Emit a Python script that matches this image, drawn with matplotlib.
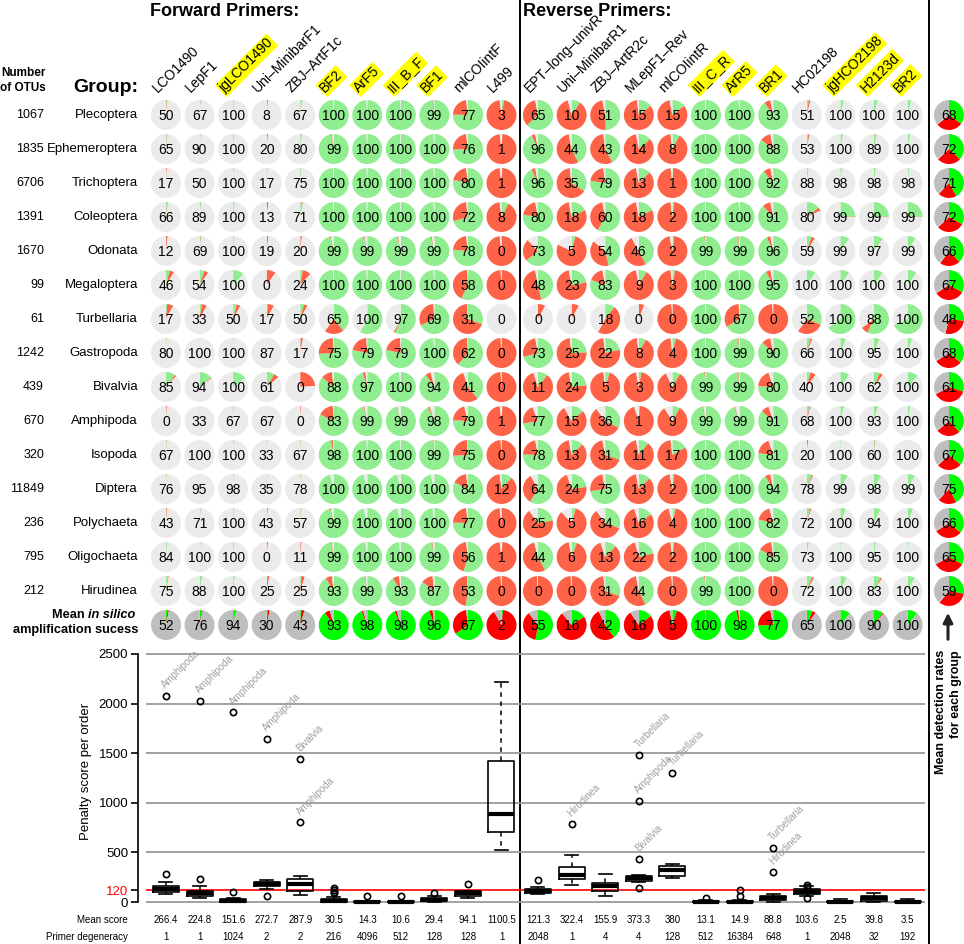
import numpy as np
import matplotlib
matplotlib.use("Agg")
import matplotlib.pyplot as plt

plt.rcParams['font.family'] = ['Liberation Sans', 'DejaVu Sans']

# ---- data ----
groups = ['Plecoptera', 'Ephemeroptera', 'Trichoptera', 'Coleoptera', 'Odonata',
          'Megaloptera', 'Turbellaria', 'Gastropoda', 'Bivalvia', 'Amphipoda',
          'Isopoda', 'Diptera', 'Polychaeta', 'Oligochaeta', 'Hirudinea']
otus = [1067, 1835, 6706, 1391, 1670, 99, 61, 1242, 439, 670, 320, 11849, 236, 795, 212]

fwd_primers = ['LCO1490', 'LepF1', 'jgLCO1490', 'Uni–MinibarF1', 'ZBJ–ArtF1c', 'BF2',
               'ArF5', 'III_B_F', 'BF1', 'mlCOIintF', 'L499']
rev_primers = ['EPT–long–univR', 'Uni–MinibarR1', 'ZBJ–ArtR2c', 'MLepF1–Rev', 'mlCOIintR',
               'III_C_R', 'ArR5', 'BR1', 'HC02198', 'jgHCO2198', 'H2123d', 'BR2']
highlighted = ['jgLCO1490', 'BF2', 'ArF5', 'III_B_F', 'BF1', 'III_C_R', 'ArR5', 'BR1',
               'jgHCO2198', 'H2123d', 'BR2']

# in silico amplification success (%) per group x primer
success = [
    [50, 67, 100, 8, 67, 100, 100, 100, 99, 77, 3, 65, 10, 51, 15, 15, 100, 100, 93, 51, 100, 100, 100],
    [65, 90, 100, 20, 80, 99, 100, 100, 100, 76, 1, 96, 44, 43, 14, 8, 100, 100, 88, 53, 100, 89, 100],
    [17, 50, 100, 17, 75, 100, 100, 100, 100, 80, 1, 96, 35, 79, 13, 1, 100, 100, 92, 88, 98, 98, 98],
    [66, 89, 100, 13, 71, 100, 100, 100, 100, 72, 8, 80, 18, 60, 18, 2, 100, 100, 91, 80, 99, 99, 99],
    [12, 69, 100, 19, 20, 99, 99, 99, 99, 78, 0, 73, 5, 54, 46, 2, 99, 99, 96, 59, 99, 97, 99],
    [46, 54, 100, 0, 24, 100, 100, 100, 100, 58, 0, 48, 23, 83, 9, 3, 100, 100, 95, 100, 100, 100, 100],
    [17, 33, 50, 17, 50, 65, 100, 97, 69, 31, 0, 0, 0, 18, 0, 0, 100, 67, 0, 52, 100, 88, 100],
    [80, 100, 100, 87, 17, 75, 79, 79, 100, 62, 0, 73, 25, 22, 8, 4, 100, 99, 90, 66, 100, 95, 100],
    [85, 94, 100, 61, 0, 88, 97, 100, 94, 41, 0, 11, 24, 5, 3, 9, 99, 99, 80, 40, 100, 62, 100],
    [0, 33, 67, 67, 0, 83, 99, 99, 98, 79, 1, 77, 15, 36, 1, 9, 99, 99, 91, 68, 100, 93, 100],
    [67, 100, 100, 33, 67, 98, 100, 100, 99, 75, 0, 78, 13, 31, 11, 17, 100, 100, 81, 20, 100, 60, 100],
    [76, 95, 98, 35, 78, 100, 100, 100, 100, 84, 12, 64, 24, 75, 13, 2, 100, 100, 94, 78, 99, 98, 99],
    [43, 71, 100, 43, 57, 99, 100, 100, 100, 77, 0, 25, 5, 34, 16, 4, 100, 100, 82, 72, 100, 94, 100],
    [84, 100, 100, 0, 11, 99, 100, 100, 99, 56, 1, 44, 6, 13, 22, 2, 100, 100, 85, 73, 100, 95, 100],
    [75, 88, 100, 25, 25, 93, 99, 93, 87, 53, 0, 0, 0, 31, 44, 0, 99, 100, 0, 72, 100, 83, 100],
]

# share of sequences that cover the primer binding site (rest drawn grey)
coverage = [
    [.015, .015, .015, .015, .02, .99, .99, .99, .99, .98, .98, .97, .96, .97, .98, .97, .99, .99, .97, .04, .04, .04, .04],
    [.015, .015, .015, .015, .02, .98, .99, .99, .99, .98, .98, .97, .97, .98, .97, .98, .99, .99, .97, .03, .03, .03, .03],
    [.01, .01, .01, .01, .015, .99, .99, .99, .99, .98, .98, .97, .98, .98, .97, .98, .99, .99, .97, .02, .02, .02, .02],
    [.02, .02, .02, .02, .03, .99, .99, .99, .99, .98, .98, .97, .97, .97, .97, .98, .99, .99, .97, .18, .25, .25, .25],
    [.02, .02, .015, .02, .02, .97, .97, .97, .97, .98, .98, .88, .82, .86, .92, .97, .99, .99, .97, .09, .10, .10, .09],
    [.09, .10, .12, .10, .12, .99, .99, .99, .99, .99, .99, .97, .97, .97, .97, .98, .99, .99, .97, .10, .10, .10, .10],
    [.08, .08, .08, .08, .08, .60, .58, .58, .99, .99, 0.0, .08, .08, .58, .06, .99, .99, .99, .99, .60, .65, .65, .68],
    [.01, .01, .01, .01, .03, .99, .99, .99, .99, .99, .99, .97, .98, .98, .98, .98, .99, .99, .97, .06, .06, .06, .05],
    [.12, .15, .15, .14, .24, .98, .98, .98, .96, .95, .99, .95, .97, .98, .97, .93, .99, .99, .95, .10, .10, .10, .12],
    [.01, .01, .01, .01, .01, .99, .97, .96, .95, .96, .98, .94, .92, .90, .95, .91, .97, .95, .95, .04, .04, .04, .03],
    [.01, .01, .01, .01, .01, .99, .99, .99, .99, .99, .99, .97, .97, .97, .97, .98, .99, .99, .95, .015, .01, .015, .01],
    [.01, .01, .01, .01, .01, .96, .96, .96, .96, .98, .98, .92, .95, .97, .97, .97, .99, .99, .97, .07, .08, .08, .08],
    [.015, .015, .015, .015, .015, .97, .96, .96, .98, .98, .98, .90, .88, .90, .95, .96, .99, .99, .96, .05, .06, .07, .06],
    [.015, .015, .015, .015, .015, .98, .98, .98, .98, .98, .98, .96, .97, .95, .96, .98, .99, .99, .98, .02, .015, .02, .015],
    [.03, .03, .02, .03, .05, .98, .98, .98, .98, .99, .99, .99, .99, .98, .97, .99, .99, .99, .99, .08, .07, .09, .08],
]

mean_success = [52, 76, 94, 30, 43, 93, 98, 98, 96, 67, 2,
                55, 16, 42, 16, 5, 100, 98, 77, 65, 100, 90, 100]

group_mean = [68, 72, 71, 72, 66, 67, 48, 68, 61, 61, 67, 75, 66, 65, 59]
group_green = [0.35, 0.37, 0.42, 0.33, 0.38, 0.33, 0.27, 0.36, 0.30, 0.38, 0.36, 0.42, 0.36, 0.33, 0.28]
group_red = [0.29, 0.26, 0.20, 0.30, 0.22, 0.33, 0.27, 0.30, 0.37, 0.26, 0.27, 0.20, 0.30, 0.34, 0.33]
group_other = [0.01, 0.01, 0.01, 0.01, 0.01, 0.01, 0.01, 0.01, 0.01, 0.01, 0.01, 0.01, 0.01, 0.01, 0.01]

mean_score = ['266.4', '224.8', '151.6', '272.7', '287.9', '30.5', '14.3', '10.6', '29.4', '94.1',
              '1100.5', '121.3', '322.4', '155.9', '373.3', '380', '13.1', '14.9', '88.8', '103.6',
              '2.5', '39.8', '3.5']
degeneracy = [1, 1, 1024, 2, 2, 216, 4096, 512, 128, 128, 1,
              2048, 1, 4, 4, 128, 512, 16384, 648, 1, 2048, 32, 192]

# penalty score per order: box statistics
box_q1 = [100, 57, 2, 165, 111, 3, 0, 0, 7, 64, 709, 87, 229, 108, 208, 262, 0, 0, 20, 81, 0, 13, 0]
box_med = [128, 87, 12, 185, 185, 14, 3, 3, 20, 87, 884, 111, 272, 165, 242, 323, 4, 3, 40, 105, 3, 40, 4]
box_q3 = [158, 111, 34, 202, 229, 34, 10, 10, 40, 108, 1418, 131, 356, 188, 262, 363, 12, 10, 64, 128, 10, 60, 12]
box_lo = [81, 44, 0, 134, 67, 0, 0, 0, 0, 44, 521, 80, 171, 64, 200, 242, 0, 0, 5, 60, 0, 0, 0]
box_hi = [205, 161, 44, 225, 259, 47, 14, 12, 57, 114, 2215, 148, 474, 282, 270, 383, 20, 20, 77, 161, 34, 87, 34]
box_fliers = [[286, 2077], [235, 2026], [100, 1912], [57, 1646], [1438, 803], [143, 122, 104, 95],
              [60], [60], [91], [178], [], [222], [783], [], [1482, 1021, 430, 141], [1297],
              [44], [118, 64], [541, 306], [171, 148, 44], [], [], []]
flier_names = [(0, 2077, 'Amphipoda'), (1, 2026, 'Amphipoda'), (2, 1912, 'Amphipoda'),
               (3, 1646, 'Amphipoda'), (4, 1438, 'Bivalvia'), (4, 803, 'Amphipoda'),
               (12, 783, 'Hirudinea'), (14, 1482, 'Turbellaria'), (14, 1021, 'Amphipoda'),
               (14, 430, 'Bivalvia'), (15, 1297, 'Turbellaria'), (18, 541, 'Turbellaria'),
               (18, 306, 'Hirudinea')]

primers = fwd_primers + rev_primers
succ = np.array(success) / 100.0
cov = np.array(coverage)

# ---- layout (pixel units, y measured from the top) ----
W, H = 964, 944
fig = plt.figure(figsize=(W / 100, H / 100), dpi=100)
ax = fig.add_axes([0, 0, 1, 1])


def Y(py):
    return H - py


col_x = [166 + 33.55 * i for i in range(len(fwd_primers))] + \
        [538 + 33.6 * j for j in range(len(rev_primers))]
row_y = [115 + 34 * i for i in range(len(groups))]
mean_y = 625
right_x = 949
R = 15

light = ['#90EE90', '#FF6347', '#EBEBEB']
dark = ['#00FF00', '#FF0000', '#BEBEBE']


def draw_pie(x, py, fracs, colors, label):
    ax.pie(fracs, colors=colors, center=(x, Y(py)), radius=R, startangle=90,
           counterclock=False, wedgeprops=dict(linewidth=0))
    ax.text(x, Y(py) - 1, str(label), ha='center', va='center', fontsize=10)


for i, g in enumerate(groups):
    for j, p in enumerate(primers):
        s, c = succ[i, j], cov[i, j]
        draw_pie(col_x[j], row_y[i], [s * c, (1 - s) * c, 1 - c], light, success[i][j])
    # per group mean detection
    grey = 1 - group_green[i] - group_red[i] - group_other[i]
    draw_pie(right_x, row_y[i], [group_green[i], group_red[i], group_other[i], grey],
             [dark[0], dark[1], '#ADD8E6', dark[2]], group_mean[i])
    ax.text(44, Y(row_y[i]), f'{otus[i]}', ha='right', va='center', fontsize=9)
    ax.text(138, Y(row_y[i]), g, ha='right', va='center', fontsize=9.5)

# mean in silico row
green_m = (succ * cov).mean(axis=0)
red_m = ((1 - succ) * cov).mean(axis=0)
for j in range(len(primers)):
    draw_pie(col_x[j], mean_y, [green_m[j], red_m[j], 1 - green_m[j] - red_m[j]], dark,
             mean_success[j])

ax.set_xlim(0, W)
ax.set_ylim(0, H)
ax.set_aspect('auto')
ax.axis('off')

# headers
ax.text(150, Y(11), 'Forward Primers:', ha='left', va='center', fontsize=13, fontweight='bold')
ax.text(523, Y(11), 'Reverse Primers:', ha='left', va='center', fontsize=13, fontweight='bold')
ax.text(23, Y(73), 'Number', ha='center', va='center', fontsize=8.5, fontweight='bold')
ax.text(23, Y(88), 'of OTUs', ha='center', va='center', fontsize=8.5, fontweight='bold')
ax.text(138, Y(88), 'Group:', ha='right', va='center', fontsize=14, fontweight='bold')

for j, p in enumerate(primers):
    kw = {}
    if p in highlighted:
        kw['bbox'] = dict(boxstyle='square,pad=0.1', fc='#FFFF00', ec='none')
    ax.text(col_x[j] - 8.5, Y(93), p, rotation=45, rotation_mode='anchor',
            ha='left', va='baseline', fontsize=10, **kw)

t_is = ax.text(135, Y(618), 'in silico', ha='right', va='baseline', fontsize=9.2,
               fontweight='bold', style='italic')
ax.annotate('Mean ', xy=(0, 0), xycoords=t_is, ha='right', va='bottom', fontsize=9.2,
            fontweight='bold')
ax.text(138, Y(633), 'amplification sucess', ha='right', va='baseline', fontsize=9.2,
        fontweight='bold')

# dividers
ax.vlines([519.5, 928.5], 0, H, color='black', lw=1.4)

# right column note
ax.text(941, Y(650), 'Mean detection rates', rotation=90, rotation_mode='anchor',
        ha='right', va='center', fontsize=9, fontweight='bold')
ax.text(956, Y(650), 'for each group', rotation=90, rotation_mode='anchor',
        ha='right', va='center', fontsize=9, fontweight='bold')
ax.annotate('', xy=(948, Y(610)), xytext=(948, Y(642)),
            arrowprops=dict(arrowstyle='-|>', lw=2.2, color='#222222', mutation_scale=14))

# bottom rows
ax.text(128, Y(920), 'Mean score', ha='right', va='center', fontsize=7)
ax.text(128, Y(937), 'Primer degeneracy', ha='right', va='center', fontsize=7)
for j in range(len(primers)):
    ax.text(col_x[j], Y(920), mean_score[j], ha='center', va='center', fontsize=7)
    ax.text(col_x[j], Y(937), str(degeneracy[j]), ha='center', va='center', fontsize=7)

# ---- penalty score boxplot ----
bx = fig.add_axes([138 / W, (H - 915) / H, 790 / W, 275 / H])
bx.patch.set_alpha(0)
bx.set_xlim(138, 928)
bx.set_ylim(-131, 2641)
for s in ['top', 'right', 'bottom']:
    bx.spines[s].set_visible(False)
bx.spines['left'].set_bounds(0, 2500)
bx.spines['left'].set_linewidth(1.2)
bx.set_xticks([])
yt = [0, 120, 500, 1000, 1500, 2000, 2500]
bx.set_yticks(yt)
bx.set_yticklabels([str(v) for v in yt])
bx.tick_params(axis='y', length=5, width=1.2, pad=2, labelsize=9.5)
bx.get_yticklabels()[1].set_color('red')
bx.hlines([0, 500, 1000, 1500, 2000, 2500], 146, 925, color='#9a9a9a', lw=1.3, zorder=0)
bx.hlines(120, 146, 925, color='red', lw=1.2, zorder=1)

stats = []
for j in range(len(primers)):
    stats.append(dict(med=box_med[j], q1=box_q1[j], q3=box_q3[j], whislo=box_lo[j],
                      whishi=box_hi[j], fliers=box_fliers[j]))
bx.bxp(stats, positions=col_x, widths=26, capwidths=13, manage_ticks=False,
       boxprops=dict(color='black', lw=1.2),
       medianprops=dict(color='black', lw=3, solid_capstyle='butt'),
       whiskerprops=dict(color='black', lw=1.1, linestyle=(0, (3, 3))),
       capprops=dict(color='black', lw=1.2),
       flierprops=dict(marker='o', mfc='none', mec='black', ms=4.5, mew=1.2))

for j, v, name in flier_names:
    bx.annotate(name, (col_x[j], v), xytext=(1, 4), textcoords='offset points',
                rotation=45, rotation_mode='anchor', ha='left', va='bottom',
                fontsize=7, color='#a0a0a0')

ax.text(86, Y(771), 'Penalty score per order', rotation=90, ha='center', va='center',
        fontsize=9.5)

fig.savefig('out.png', dpi=100)
